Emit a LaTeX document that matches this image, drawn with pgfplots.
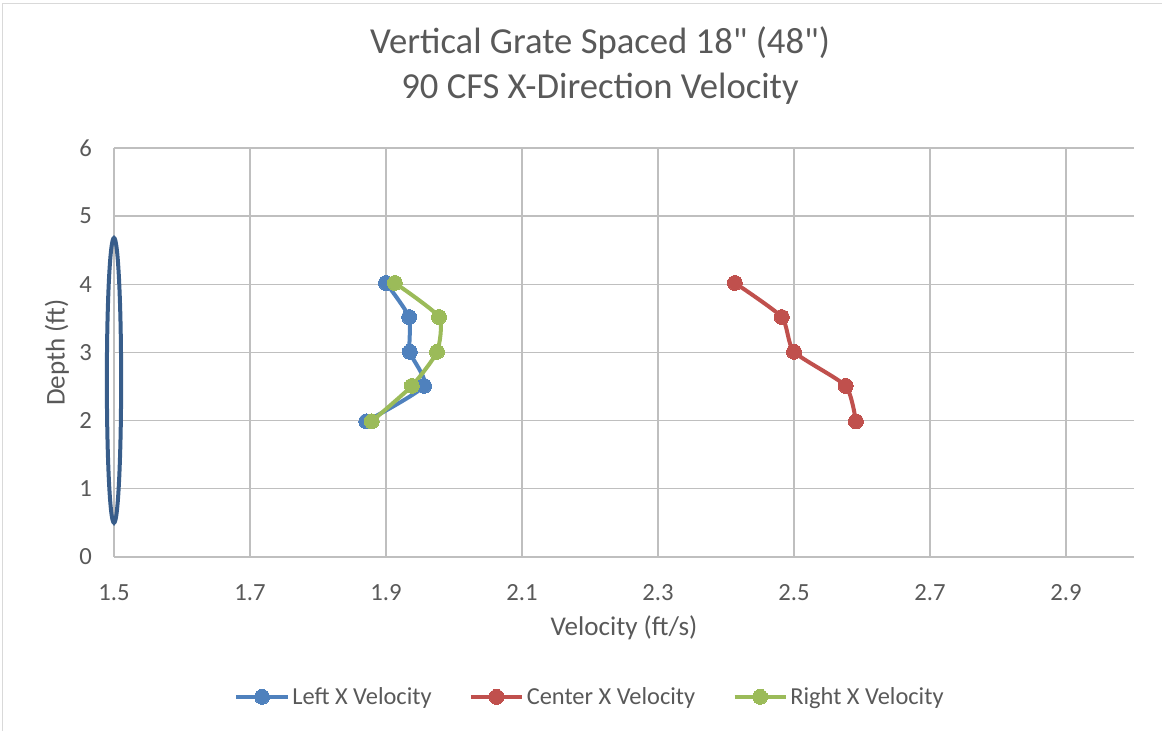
\documentclass[border=0pt]{standalone}
\usepackage{pgfplots}
\pgfplotsset{compat=1.18}
\usepackage{fontspec}
\setmainfont{Carlito}
\newfontfamily\qfont{Carlito}
\definecolor{txt}{HTML}{595959}
\definecolor{grid}{HTML}{D9D9D9}
\definecolor{cblue}{HTML}{4F81BD}
\definecolor{cred}{HTML}{C0504D}
\definecolor{cgreen}{HTML}{9BBB59}
\definecolor{ell}{HTML}{385D8A}
\begin{document}
\begin{tikzpicture}
\useasboundingbox (0,0) rectangle (871.5pt,548.25pt);
\draw[grid, line width=0.75pt] (2pt,0) -- (2pt,545.5pt) -- (871.5pt,545.5pt);
\node[txt, font=\qfont\fontsize{27.5}{33.75}\selectfont, align=center] at (450pt,499.1pt) {Vertical Grate Spaced 18" (48")\\90 CFS X-Direction Velocity};
\begin{axis}[
  at={(85.5pt,130.5pt)}, anchor=south west,
  scale only axis, width=765pt, height=306.75pt,
  xmin=1.5, xmax=3.0, ymin=0, ymax=6,
  xtick={1.5,1.7,...,2.95}, ytick={0,1,...,6},
  xticklabels={1.5,1.7,1.9,2.1,2.3,2.5,2.7,2.9},
  major tick length=0pt,
  grid=major, major grid style={grid, line width=1pt},
  axis line style={draw=none},
  axis x line*=bottom, axis y line*=left,
  tick label style={txt, font=\fontsize{18.5}{22}\selectfont},
  /pgf/number format/assume math mode=true,
  xticklabel style={yshift=-17pt},
  yticklabel style={xshift=-13pt},
  xlabel={Velocity (ft/s)}, ylabel={Depth (ft)},
  label style={txt, font=\fontsize{20.3}{24}\selectfont},
  xlabel style={at={(axis description cs:0.5,-0.1728)}, anchor=center},
  ylabel style={at={(axis description cs:-0.0559,0.5)}, anchor=center},
  legend style={at={(0.467,-0.342)}, anchor=center, draw=none, legend columns=3,
    font=\fontsize{18.3}{22}\selectfont, text=txt,
    /tikz/every even column/.append style={column sep=26pt}},
  legend image code/.code={
    \draw[#1, mark=none] (0cm,0cm) -- (1.35cm,0cm);
    \draw[#1, only marks] plot coordinates {(0.675cm,0cm)};
  },
  every axis plot/.append style={line width=3pt, mark=*, mark size=5.6pt, smooth, tension=0.35},
  clip=false,
]
\draw[ell, line width=3pt] (axis cs:1.5,2.59) ellipse [x radius=0.0105, y radius=2.09];
\addplot[cblue, mark options={fill=cblue, draw=cblue, line width=0pt}] coordinates {
(1.900,4.02) (1.934,3.52) (1.935,3.01) (1.956,2.51) (1.871,1.99)};
\addlegendentry{Left X Velocity}
\addplot[cred, mark options={fill=cred, draw=cred, line width=0pt}] coordinates {
(2.413,4.02) (2.482,3.52) (2.500,3.01) (2.576,2.51) (2.591,1.99)};
\addlegendentry{Center X Velocity}
\addplot[cgreen, mark options={fill=cgreen, draw=cgreen, line width=0pt}] coordinates {
(1.913,4.02) (1.978,3.52) (1.975,3.01) (1.938,2.51) (1.879,1.99)};
\addlegendentry{Right X Velocity}
\end{axis}
\end{tikzpicture}
\end{document}
